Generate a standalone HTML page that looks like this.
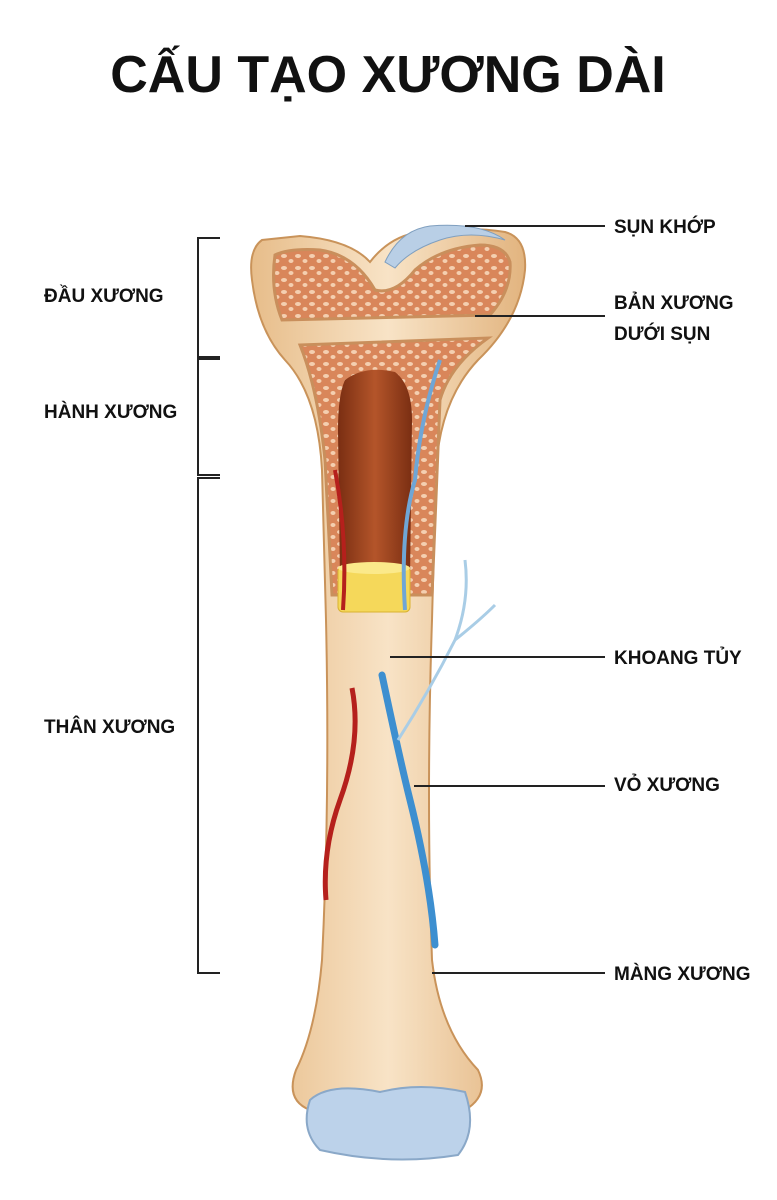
<!DOCTYPE html>
<html><head><meta charset="utf-8"><style>
html,body{margin:0;padding:0;background:#fff;width:777px;height:1200px;overflow:hidden}
svg{display:block}
text{font-family:"Liberation Sans","DejaVu Sans",sans-serif;font-weight:bold;fill:#111}
</style></head><body>
<svg width="777" height="1200" viewBox="0 0 777 1200">
<defs>
<linearGradient id="shaft" x1="0" x2="1">
<stop offset="0" stop-color="#e7bd8a"/><stop offset="0.5" stop-color="#f8e3c6"/><stop offset="1" stop-color="#e2b47f"/>
</linearGradient>
<pattern id="spongy" width="14" height="12" patternUnits="userSpaceOnUse">
<rect width="14" height="12" fill="#d9865a"/>
<ellipse cx="4" cy="4" rx="3" ry="2" fill="#f4cfb0"/>
<ellipse cx="11" cy="9" rx="2.5" ry="2" fill="#f4cfb0"/>
</pattern>
<linearGradient id="marrow" x1="0" x2="1"><stop offset="0" stop-color="#7a2e12"/><stop offset="0.5" stop-color="#b4552a"/><stop offset="1" stop-color="#7a2e12"/></linearGradient>
</defs>
<text x="388" y="92" font-size="52" text-anchor="middle">CẤU TẠO XƯƠNG DÀI</text>

<!-- bone outer -->
<path d="M262,240 Q248,250 252,280 Q258,330 285,360 Q318,395 322,470 L326,620 Q330,800 322,960 Q316,1030 296,1070 Q285,1100 310,1110 L465,1110 Q490,1095 478,1070 Q440,1030 432,960 Q426,800 432,620 L436,470 Q440,400 478,360 Q520,320 525,270 Q527,238 505,232 Q470,226 420,232 Q390,236 370,262 Q350,240 300,236 Z" fill="url(#shaft)" stroke="#c9935a" stroke-width="2"/>
<!-- cartilage top -->
<path d="M385,262 Q400,230 430,226 Q480,222 505,240 Q470,230 440,240 Q410,250 395,268 Z" fill="#b9cfe6" stroke="#7f9fbf"/>
<!-- head spongy -->
<path d="M275,255 Q270,290 282,320 L490,315 Q512,290 510,262 Q505,245 480,245 Q440,248 415,270 Q395,295 375,290 Q355,255 320,250 Q290,248 275,255 Z" fill="url(#spongy)" stroke="#c98f5c" stroke-width="3"/>
<!-- metaphysis spongy -->
<path d="M300,345 L488,338 Q450,365 440,400 L432,595 L332,595 L325,460 Q318,390 300,345 Z" fill="url(#spongy)" stroke="#c98f5c" stroke-width="3"/>
<!-- marrow cavity -->
<path d="M345,380 Q365,365 395,372 Q412,385 412,420 L410,580 L340,580 L338,430 Q338,395 345,380 Z" fill="url(#marrow)"/>
<rect x="338" y="566" width="72" height="46" rx="5" fill="#f5d85a" stroke="#d9b230"/>
<ellipse cx="374" cy="568" rx="36" ry="6" fill="#fbe98a"/>
<!-- vessels in cavity -->
<path d="M335,470 Q348,540 343,610" stroke="#b5201c" stroke-width="4" fill="none"/>
<path d="M440,360 Q420,420 415,480 Q400,530 405,610" stroke="#6fa6d6" stroke-width="4" fill="none"/>
<!-- shaft vessels -->
<path d="M352,688 Q362,740 340,800 Q322,850 326,900" stroke="#b5201c" stroke-width="5" fill="none"/>
<path d="M382,675 Q400,760 410,800 Q430,880 435,945" stroke="#3d8fd0" stroke-width="7" fill="none" stroke-linecap="round"/>
<path d="M398,740 Q430,690 455,640 Q470,600 465,560 M455,640 Q480,620 495,605" stroke="#a9cde6" stroke-width="3" fill="none"/>
<!-- bottom condyle -->
<path d="M310,1100 Q330,1082 380,1092 Q420,1082 465,1092 Q478,1130 458,1155 Q390,1166 320,1150 Q300,1130 310,1100 Z" fill="#bcd2ea" stroke="#8aa8c8" stroke-width="2"/>

<!-- brackets -->
<g stroke="#222" stroke-width="2" fill="none">
<path d="M220,238 H198 V357 H220 M220,359 H198 V475 H220 M220,478 H198 V973 H220"/>
<path d="M465,226 H605 M475,316 H605 M390,657 H605 M414,786 H605 M432,973 H605"/>
</g>
<g font-size="19">
<text x="44" y="302">ĐẦU XƯƠNG</text>
<text x="44" y="418">HÀNH XƯƠNG</text>
<text x="44" y="733">THÂN XƯƠNG</text>
<text x="614" y="233">SỤN KHỚP</text>
<text x="614" y="309">BẢN XƯƠNG</text>
<text x="614" y="340">DƯỚI SỤN</text>
<text x="614" y="664">KHOANG TỦY</text>
<text x="614" y="791">VỎ XƯƠNG</text>
<text x="614" y="980">MÀNG XƯƠNG</text>
</g>
</svg>
</body></html>
